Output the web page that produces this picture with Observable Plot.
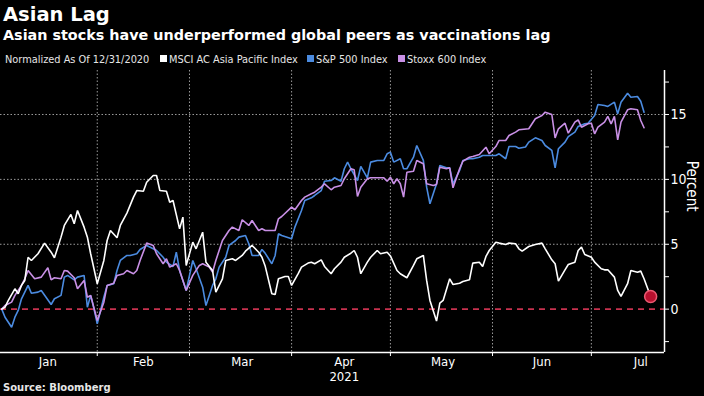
<!DOCTYPE html>
<html>
<head>
<meta charset="utf-8">
<script src="https://cdn.jsdelivr.net/npm/d3@7"></script>
<script src="https://cdn.jsdelivr.net/npm/@observablehq/plot@0.6"></script>
<style>
html,body{margin:0;padding:0;background:#000;}
body{width:704px;height:396px;position:relative;overflow:hidden;font-family:"DejaVu Sans",sans-serif;color:#fff;}
.t{position:absolute;white-space:nowrap;line-height:1;}
#title{left:3px;top:5px;font-weight:bold;font-size:19.5px;}
#subtitle{left:3px;top:28px;font-weight:bold;font-size:14.35px;}
.leg{top:55px;font-size:9.8px;color:#e6e6e6;}
.sw{position:absolute;top:55px;width:7px;height:7px;}
#source{left:3px;top:383px;font-weight:bold;font-size:10px;color:#e6e6e6;}
#chart{position:absolute;left:0;top:66px;}
</style>
</head>
<body>
<div id="title" class="t">Asian Lag</div>
<div id="subtitle" class="t">Asian stocks have underperformed global peers as vaccinations lag</div>
<div id="legend"></div>
<div id="chart"></div>
<div id="source" class="t">Source: Bloomberg</div>
<script>
// ---- Data (percent change, normalized as of 12/31/2020) ----
const seriesNames = ["MSCI AC Asia Pacific Index", "S&P 500 Index", "Stoxx 600 Index"];
const seriesColors = ["#ffffff", "#4b8be0", "#c990e6"];
const legendNote = "Normalized As Of 12/31/2020";

const msciDates = ["2021-01-03","2021-01-04","2021-01-05","2021-01-07","2021-01-08","2021-01-09","2021-01-10","2021-01-11","2021-01-12","2021-01-14","2021-01-16","2021-01-18","2021-01-19","2021-01-21","2021-01-22","2021-01-24","2021-01-25","2021-01-26","2021-01-28","2021-01-29","2021-01-30","2021-02-01","2021-02-03","2021-02-04","2021-02-05","2021-02-07","2021-02-08","2021-02-10","2021-02-12","2021-02-13","2021-02-15","2021-02-16","2021-02-18","2021-02-19","2021-02-20","2021-02-22","2021-02-23","2021-02-24","2021-02-26","2021-02-27","2021-02-28","2021-03-02","2021-03-03","2021-03-05","2021-03-06","2021-03-08","2021-03-09","2021-03-11","2021-03-12","2021-03-14","2021-03-15","2021-03-17","2021-03-18","2021-03-20","2021-03-22","2021-03-23","2021-03-24","2021-03-26","2021-03-27","2021-03-28","2021-03-30","2021-03-31","2021-04-01","2021-04-03","2021-04-04","2021-04-06","2021-04-07","2021-04-08","2021-04-10","2021-04-11","2021-04-13","2021-04-14","2021-04-16","2021-04-17","2021-04-19","2021-04-20","2021-04-21","2021-04-22","2021-04-24","2021-04-25","2021-04-27","2021-04-28","2021-04-30","2021-05-01","2021-05-03","2021-05-04","2021-05-06","2021-05-08","2021-05-09","2021-05-11","2021-05-12","2021-05-13","2021-05-15","2021-05-16","2021-05-17","2021-05-19","2021-05-20","2021-05-22","2021-05-23","2021-05-25","2021-05-26","2021-05-28","2021-05-29","2021-05-30","2021-05-31","2021-06-02","2021-06-03","2021-06-05","2021-06-06","2021-06-08","2021-06-09","2021-06-10","2021-06-12","2021-06-14","2021-06-16","2021-06-17","2021-06-19","2021-06-20","2021-06-21","2021-06-23","2021-06-24","2021-06-26","2021-06-27","2021-06-28","2021-06-29","2021-07-01","2021-07-02","2021-07-04","2021-07-05","2021-07-06","2021-07-08","2021-07-09","2021-07-10","2021-07-12","2021-07-13","2021-07-15","2021-07-16","2021-07-17","2021-07-19"];
const msciValues = [0.0,0.15,0.67,1.57,1.19,1.83,2.21,4.0,3.75,4.27,5.09,4.39,3.96,5.55,6.45,7.3,6.58,7.6,6.32,5.55,4.27,1.96,3.75,5.29,6.06,5.5,6.45,7.4,8.63,9.14,9.09,9.78,10.3,10.3,9.14,9.09,8.24,8.37,6.19,7.09,3.37,5.16,4.65,5.93,3.62,2.98,1.31,2.34,3.75,3.88,3.75,4.14,4.47,4.91,4.39,4.0,3.3,1.19,1.13,2.34,2.52,2.52,1.83,2.73,3.24,3.55,3.62,3.5,3.8,3.29,2.73,3.11,3.62,4.0,4.31,4.52,4.0,2.73,3.62,4.0,4.52,4.27,4.39,4.1,2.98,2.73,2.42,3.37,3.88,4.14,2.21,0.67,-0.92,0.46,0.67,2.34,1.9,2.0,2.13,2.26,3.55,3.62,3.29,4.06,4.52,5.16,5.09,4.98,5.09,5.04,4.65,4.47,4.83,4.98,5.09,4.65,3.8,3.5,2.16,3.03,3.44,3.62,4.52,4.78,4.21,4.0,3.62,3.11,3.03,3.03,2.47,1.44,0.98,1.96,2.98,2.85,2.93,2.34,0.98];

const spxDates = ["2021-01-03","2021-01-04","2021-01-06","2021-01-07","2021-01-08","2021-01-09","2021-01-11","2021-01-12","2021-01-14","2021-01-15","2021-01-18","2021-01-19","2021-01-21","2021-01-22","2021-01-23","2021-01-25","2021-01-26","2021-01-28","2021-01-29","2021-01-30","2021-01-31","2021-02-01","2021-02-03","2021-02-04","2021-02-06","2021-02-07","2021-02-08","2021-02-10","2021-02-11","2021-02-13","2021-02-14","2021-02-16","2021-02-18","2021-02-19","2021-02-21","2021-02-22","2021-02-24","2021-02-25","2021-02-26","2021-02-27","2021-02-28","2021-03-02","2021-03-03","2021-03-05","2021-03-06","2021-03-08","2021-03-09","2021-03-10","2021-03-12","2021-03-13","2021-03-15","2021-03-16","2021-03-18","2021-03-19","2021-03-20","2021-03-22","2021-03-23","2021-03-24","2021-03-26","2021-03-27","2021-03-28","2021-03-29","2021-04-01","2021-04-02","2021-04-04","2021-04-05","2021-04-07","2021-04-08","2021-04-10","2021-04-11","2021-04-13","2021-04-14","2021-04-16","2021-04-17","2021-04-18","2021-04-19","2021-04-21","2021-04-22","2021-04-24","2021-04-25","2021-04-27","2021-04-29","2021-04-30","2021-05-01","2021-05-02","2021-05-04","2021-05-05","2021-05-06","2021-05-08","2021-05-09","2021-05-11","2021-05-12","2021-05-13","2021-05-15","2021-05-16","2021-05-18","2021-05-19","2021-05-20","2021-05-22","2021-05-23","2021-05-25","2021-05-26","2021-05-28","2021-05-29","2021-05-31","2021-06-02","2021-06-03","2021-06-05","2021-06-06","2021-06-08","2021-06-09","2021-06-11","2021-06-12","2021-06-14","2021-06-16","2021-06-17","2021-06-19","2021-06-20","2021-06-21","2021-06-23","2021-06-24","2021-06-26","2021-06-27","2021-06-29","2021-06-30","2021-07-02","2021-07-03","2021-07-05","2021-07-06","2021-07-08","2021-07-09","2021-07-10","2021-07-12","2021-07-13","2021-07-15","2021-07-16","2021-07-17"];
const spxValues = [0.0,-0.62,-1.39,-0.62,-0.1,0.8,1.83,1.23,1.31,1.44,0.36,0.8,1.06,2.47,2.6,2.26,2.47,2.6,0.15,1.06,0.03,-1.13,0.92,1.83,1.96,2.98,3.75,4.14,4.14,4.27,4.6,4.91,4.65,4.52,4.0,3.62,3.29,4.39,2.98,2.21,1.44,3.75,3.11,1.69,0.28,1.83,2.34,3.24,4.0,4.91,5.29,5.55,5.68,5.04,4.14,4.14,4.6,4.3,3.5,4.14,5.81,5.68,5.42,6.32,7.6,8.37,8.58,8.76,9.14,9.86,9.91,10.12,9.86,10.82,11.33,10.82,9.91,11.0,10.12,11.33,11.46,11.46,11.97,12.1,11.33,11.59,10.82,10.82,11.71,12.61,11.46,9.4,8.12,9.66,11.07,10.89,10.89,9.66,10.69,11.46,11.59,11.59,11.71,11.84,11.84,11.84,11.97,11.59,12.53,12.53,12.4,12.5,12.87,13.2,13.0,12.61,12.23,10.89,12.36,12.87,13.3,13.64,14.08,14.28,14.33,14.92,15.77,15.69,15.62,15.95,15.05,15.95,16.64,16.33,16.39,16.02,15.18];

const stoxxDates = ["2021-01-03","2021-01-04","2021-01-06","2021-01-07","2021-01-09","2021-01-10","2021-01-11","2021-01-13","2021-01-15","2021-01-17","2021-01-18","2021-01-19","2021-01-21","2021-01-22","2021-01-23","2021-01-25","2021-01-26","2021-01-28","2021-01-29","2021-01-30","2021-02-01","2021-02-03","2021-02-04","2021-02-06","2021-02-07","2021-02-09","2021-02-10","2021-02-12","2021-02-13","2021-02-14","2021-02-16","2021-02-18","2021-02-19","2021-02-21","2021-02-22","2021-02-23","2021-02-25","2021-02-26","2021-02-28","2021-03-02","2021-03-04","2021-03-05","2021-03-07","2021-03-08","2021-03-09","2021-03-11","2021-03-13","2021-03-14","2021-03-16","2021-03-17","2021-03-19","2021-03-20","2021-03-22","2021-03-23","2021-03-24","2021-03-27","2021-03-28","2021-03-29","2021-04-01","2021-04-02","2021-04-04","2021-04-05","2021-04-07","2021-04-08","2021-04-10","2021-04-11","2021-04-13","2021-04-14","2021-04-16","2021-04-17","2021-04-19","2021-04-20","2021-04-21","2021-04-22","2021-04-24","2021-04-25","2021-04-27","2021-04-29","2021-04-30","2021-05-01","2021-05-02","2021-05-03","2021-05-04","2021-05-05","2021-05-06","2021-05-08","2021-05-09","2021-05-11","2021-05-12","2021-05-14","2021-05-15","2021-05-16","2021-05-18","2021-05-19","2021-05-20","2021-05-22","2021-05-23","2021-05-25","2021-05-26","2021-05-28","2021-05-30","2021-05-31","2021-06-02","2021-06-03","2021-06-05","2021-06-06","2021-06-08","2021-06-09","2021-06-12","2021-06-14","2021-06-16","2021-06-17","2021-06-19","2021-06-20","2021-06-21","2021-06-23","2021-06-24","2021-06-26","2021-06-27","2021-06-28","2021-06-30","2021-07-01","2021-07-02","2021-07-03","2021-07-05","2021-07-06","2021-07-07","2021-07-08","2021-07-09","2021-07-10","2021-07-12","2021-07-13","2021-07-15","2021-07-16","2021-07-17"];
const stoxxValues = [0.0,0.28,0.54,1.06,1.83,2.34,2.98,2.34,2.47,3.19,2.26,2.42,2.34,2.98,2.93,2.42,1.57,2.21,0.92,1.06,-0.87,0.54,1.83,2.0,2.6,2.73,2.98,2.73,2.98,3.75,5.09,4.91,4.27,3.5,3.88,3.24,3.5,2.98,1.44,2.6,3.37,3.5,3.24,2.85,3.75,5.29,6.06,6.32,6.06,6.89,6.45,6.83,6.06,6.19,6.06,6.06,6.96,7.14,7.86,7.66,8.37,8.63,8.89,9.01,9.4,9.66,9.2,9.4,9.53,10.05,10.82,10.74,8.68,9.4,10.05,10.12,10.12,10.12,9.86,10.17,9.66,10.05,9.66,8.63,10.55,10.63,11.46,11.2,9.66,9.53,9.61,10.94,10.82,10.89,9.35,10.82,11.4,11.71,11.76,11.92,12.48,11.97,12.53,13.0,13.0,13.38,13.64,13.82,13.9,14.67,14.92,15.18,15.0,13.2,13.9,14.33,13.56,14.41,14.59,14.02,14.28,14.33,13.51,14.02,14.41,14.85,14.28,14.85,13.05,14.41,15.36,15.44,15.36,14.54,13.98];

// ---- Axis ticks ----
const yMajorTicks = [0, 5, 10, 15];
const yMinorTicks = [-2.5, 2.5, 7.5, 12.5, 17.5];
const monthStarts = ["2021-02-01","2021-03-01","2021-04-01","2021-05-01","2021-06-01","2021-07-01"];
const monthLabelDates = ["2021-01-17","2021-02-15","2021-03-17","2021-04-17","2021-05-17","2021-06-16","2021-07-16"];
const yearLabel = {date: "2021-04-17", text: "2021"};
const yTitle = "Percent";

// ---- Build table ----
const rows = [];
function addSeries(name, dates, vals) {
  dates.forEach((d, i) => rows.push({series: name, date: new Date(d), value: vals[i]}));
}
addSeries(seriesNames[1], spxDates, spxValues);
addSeries(seriesNames[2], stoxxDates, stoxxValues);
addSeries(seriesNames[0], msciDates, msciValues);
const lastMsci = {date: new Date(msciDates[msciDates.length - 1]), value: msciValues[msciValues.length - 1]};

// ---- Legend (HTML) ----
const legend = document.getElementById("legend");
function addText(txt, left) {
  const s = document.createElement("div");
  s.className = "t leg"; s.style.left = left + "px"; s.textContent = txt;
  legend.appendChild(s);
}
function addSwatch(color, left) {
  const s = document.createElement("div");
  s.className = "sw"; s.style.left = left + "px"; s.style.background = color;
  legend.appendChild(s);
}
addText(legendNote, 5);
addSwatch(seriesColors[0], 160); addText(seriesNames[0], 169);
addSwatch(seriesColors[1], 307); addText(seriesNames[1], 316);
addSwatch(seriesColors[2], 398); addText(seriesNames[2], 407);

// ---- Plot ----
const xDomain = [new Date(Date.UTC(2021, 0, 2, 15)), new Date(Date.UTC(2021, 6, 23, 5))];
const yDomain = [-3.34, 18.39];
const axisFont = "'Liberation Sans Narrow','DejaVu Sans Condensed','Liberation Sans',sans-serif";

const chart = Plot.plot({
  width: 704,
  height: 330,
  marginTop: 4,
  marginBottom: 44,
  marginLeft: 0,
  marginRight: 40,
  style: {background: "transparent", color: "#fff", fontFamily: axisFont, fontSize: "13px"},
  x: {type: "utc", domain: xDomain},
  y: {domain: yDomain},
  color: {domain: seriesNames, range: seriesColors},
  marks: [
    Plot.gridY(yMajorTicks.filter(d => d !== 0), {stroke: "#9a9a9a", strokeOpacity: 1, strokeDasharray: "1.5,2"}),
    Plot.gridX(monthStarts.map(d => new Date(d)), {stroke: "#9a9a9a", strokeOpacity: 1, strokeDasharray: "1.5,2"}),
    Plot.ruleY([0], {stroke: "#c8324f", strokeWidth: 1.6, strokeDasharray: "6,5"}),
    Plot.line(rows, {x: "date", y: "value", z: "series", stroke: "series", strokeWidth: 1.6, strokeLinejoin: "miter"}),
    Plot.dot([lastMsci], {x: "date", y: "value", r: 6, fill: "#b8102e", stroke: "#ec5a72", strokeWidth: 1.5}),
    Plot.ruleX([xDomain[1]], {stroke: "#fff", strokeWidth: 1.5}),
    Plot.ruleY([yDomain[0]], {stroke: "#fff", strokeWidth: 1.5}),
    Plot.axisY(yMajorTicks, {anchor: "right", tickSize: 4, tickPadding: 2, label: null, stroke: "#fff", fill: "#fff", fontSize: 14}),
    Plot.axisY(yMinorTicks, {anchor: "right", tickSize: 4, tickFormat: () => "", label: null, stroke: "#fff"}),
    Plot.axisX(monthStarts.map(d => new Date(d)), {anchor: "bottom", tickSize: 4, tickFormat: () => "", label: null, stroke: "#fff"}),
    Plot.axisX(monthLabelDates.map(d => new Date(d)), {anchor: "bottom", tickSize: 0, tickPadding: 4, tickFormat: d3.utcFormat("%b"), label: null, fill: "#fff", fontSize: 13}),
    Plot.text([yearLabel], {x: d => new Date(d.date), text: "text", frameAnchor: "bottom", dy: 28, fill: "#fff", fontSize: 13}),
    Plot.text([yTitle], {text: d => d, frameAnchor: "right", dx: 27, rotate: 90, fill: "#fff", fontSize: 15})
  ]
});
document.getElementById("chart").appendChild(chart);
</script>
</body>
</html>
